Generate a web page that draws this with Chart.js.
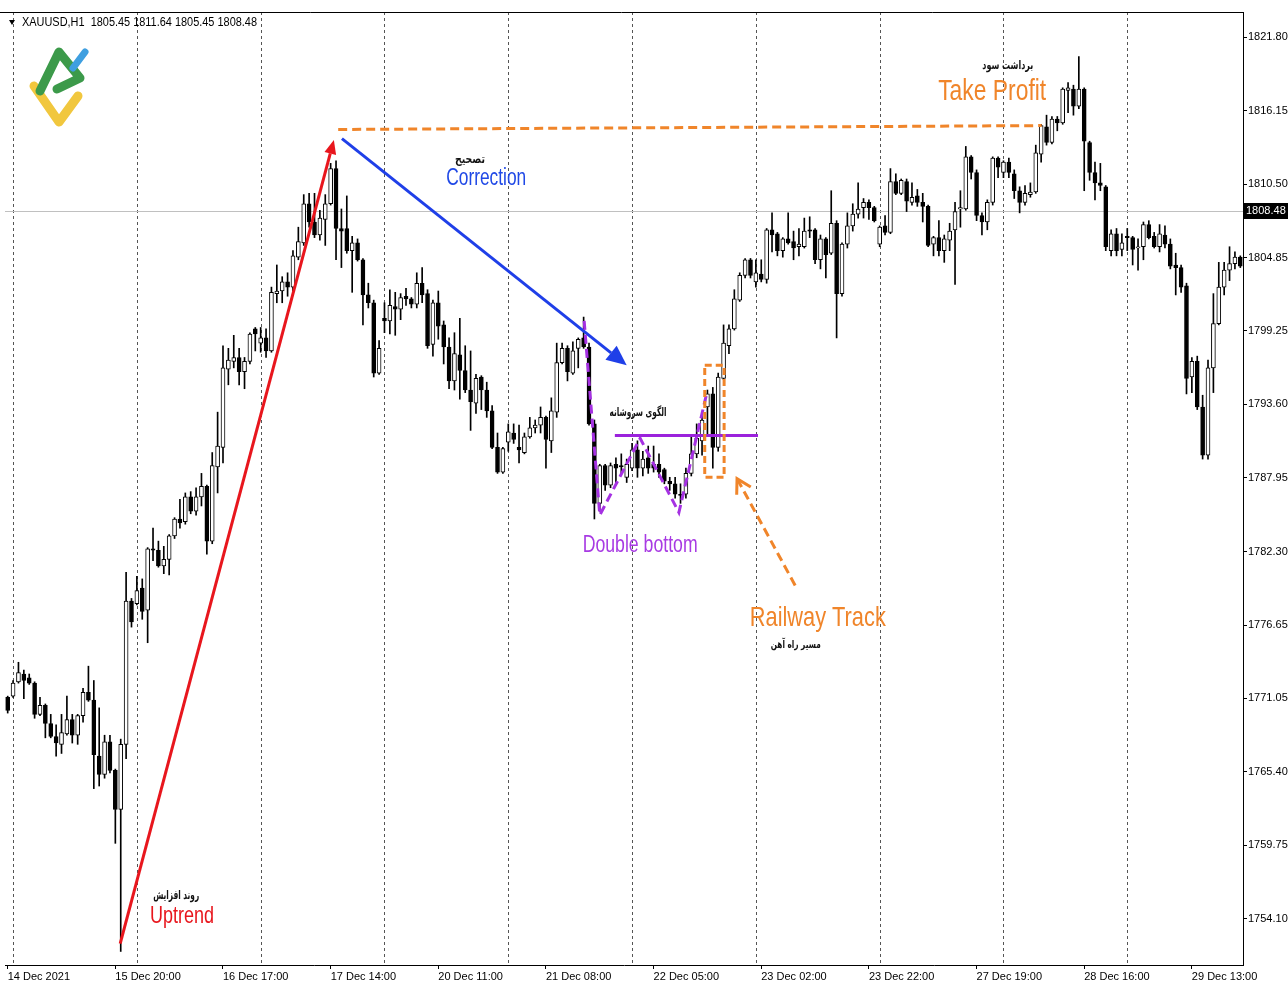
<!DOCTYPE html>
<html>
<head>
<meta charset="utf-8">
<title>XAUUSD,H1</title>
<script src="https://cdn.jsdelivr.net/npm/chart.js@4.4.1/dist/chart.umd.min.js"></script>
<style>
  html, body { margin: 0; padding: 0; background: #ffffff; }
  canvas { display: block; }
</style>
</head>
<body>
<canvas id="chart" width="1288" height="985"></canvas>
<script>
// Sessions: day, first hour, last hour (H1 bars)
const sessions = [
    ['14 Dec', 23, 23], ['15 Dec', 1, 23], ['16 Dec', 1, 23], ['17 Dec', 1, 23],
    ['20 Dec', 1, 23], ['21 Dec', 1, 23], ['22 Dec', 1, 23], ['23 Dec', 1, 23],
    ['27 Dec', 1, 23], ['28 Dec', 1, 23], ['29 Dec', 1, 22]
];

// Candles
const opens = [
    1771.1,1771.2,1772.3,1772.9,1772.6,1772.2,1769.8,1770.5,1769.1,1768.1,
    1767.5,1768.3,1769.4,1768.2,1769.7,1771.5,1770.9,1766.6,1765.2,1767.7,
    1765.5,1762.5,1767.5,1778.5,1778.3,1779.5,1777.8,1782.5,1782.4,1781.2,
    1781.7,1783.5,1784.8,1784.6,1786.5,1785.4,1786.5,1787.3,1783.1,1788.8,
    1790.3,1796.3,1796.9,1797.2,1796.1,1796.9,1799.4,1798.3,1798.7,1797.7,
    1802.1,1802.3,1803.0,1802.6,1804.9,1806.0,1809.0,1807.6,1806.6,1807.8,
    1809.0,1811.7,1807.1,1807.1,1805.4,1806.0,1804.7,1802.0,1801.4,1796.0,
    1800.2,1800.0,1801.1,1800.9,1801.9,1801.7,1801.3,1802.9,1802.1,1798.2,
    1801.4,1799.7,1798.0,1795.4,1797.4,1796.2,1794.7,1793.7,1795.7,1794.7,
    1793.1,1790.3,1788.4,1790.7,1791.4,1790.3,1789.9,1791.1,1791.8,1792.0,
    1792.6,1790.8,1793.0,1796.8,1797.9,1796.0,1797.9,1798.7,1798.0,1792.1,
    1786.0,1788.9,1787.4,1789.0,1788.9,1788.0,1788.7,1790.1,1788.7,1789.5,
    1789.0,1789.0,1788.6,1787.7,1787.5,1786.7,1786.7,1788.3,1789.8,1790.8,
    1793.4,1794.4,1790.3,1795.6,1798.1,1799.4,1801.6,1803.5,1804.7,1803.0,
    1803.6,1803.2,1807.0,1806.7,1805.4,1806.3,1806.1,1805.7,1805.7,1807.0,
    1807.0,1804.7,1806.3,1805.2,1807.5,1802.1,1805.9,1807.3,1808.2,1808.7,
    1809.1,1808.7,1805.9,1807.3,1806.8,1810.7,1809.8,1810.7,1809.1,1809.6,
    1809.1,1808.8,1805.9,1806.4,1805.4,1806.2,1807.0,1808.6,1808.6,1812.6,
    1811.4,1808.1,1807.6,1809.1,1812.5,1811.4,1812.2,1811.3,1810.0,1809.1,
    1809.7,1809.9,1812.8,1814.9,1813.7,1815.5,1815.2,1817.7,1817.8,1816.5,
    1817.8,1813.7,1811.4,1810.6,1810.3,1805.4,1806.7,1805.5,1806.5,1806.4,
    1805.6,1805.7,1807.4,1806.5,1805.7,1806.6,1805.9,1804.3,1804.1,1802.7,
    1795.7,1796.9,1793.4,1789.7,1796.4,1799.8,1802.6,1803.9,1804.4,1804.9
];
const highs = [
    1771.2,1772.4,1773.8,1773.2,1772.9,1772.3,1771.1,1770.6,1769.8,1769.0,
    1769.8,1771.2,1769.8,1769.8,1771.8,1773.5,1772.4,1770.3,1768.2,1768.2,
    1765.6,1767.9,1780.7,1778.7,1780.4,1780.2,1782.6,1784.1,1783.1,1782.7,
    1783.6,1784.9,1786.3,1786.8,1786.9,1787.2,1788.3,1787.4,1789.9,1793.0,
    1798.1,1797.9,1798.9,1797.9,1797.2,1799.1,1799.5,1799.5,1799.4,1802.6,
    1804.3,1803.4,1803.7,1805.4,1807.2,1809.7,1809.8,1809.8,1808.5,1809.7,
    1812.1,1812.3,1808.6,1809.6,1806.5,1806.3,1804.8,1802.9,1801.6,1798.5,
    1801.4,1802.4,1802.2,1802.1,1802.5,1801.8,1803.7,1804.1,1802.4,1801.6,
    1802.3,1800.0,1798.7,1799.1,1800.2,1798.1,1797.7,1795.9,1795.8,1795.3,
    1793.5,1791.4,1790.3,1792.1,1792.1,1792.0,1791.4,1792.6,1792.4,1793.4,
    1792.7,1794.1,1798.3,1798.3,1798.1,1798.4,1798.7,1800.3,1798.3,1792.4,
    1789.0,1789.0,1789.1,1789.5,1789.8,1789.4,1790.6,1790.8,1790.0,1790.4,
    1790.4,1789.8,1788.7,1788.0,1788.0,1787.5,1788.7,1791.2,1792.1,1792.9,
    1794.7,1794.9,1796.0,1799.7,1799.7,1802.4,1803.7,1804.8,1804.8,1804.7,
    1804.7,1807.1,1808.3,1806.8,1806.4,1808.3,1806.9,1807.1,1807.9,1808.0,
    1807.1,1806.6,1806.4,1810.0,1807.7,1806.0,1808.3,1809.0,1810.6,1809.4,
    1809.3,1808.8,1807.3,1808.1,1811.7,1811.3,1810.9,1810.9,1810.6,1810.1,
    1809.8,1808.9,1806.5,1807.7,1806.6,1807.5,1809.1,1810.0,1813.4,1812.7,
    1811.6,1808.3,1809.3,1812.6,1812.6,1812.3,1812.5,1811.6,1810.3,1810.4,
    1810.6,1813.5,1815.1,1815.8,1815.7,1815.7,1817.9,1818.3,1818.1,1820.3,
    1817.9,1813.8,1812.2,1812.1,1810.4,1807.0,1807.1,1806.7,1807.1,1806.5,
    1806.3,1807.6,1807.7,1806.8,1807.4,1807.3,1806.3,1805.2,1804.3,1802.9,
    1797.2,1797.3,1794.3,1797.0,1802.1,1804.5,1804.5,1805.7,1805.3,1805.0
];
const lows = [
    1769.9,1771.1,1772.2,1771.0,1772.1,1769.5,1769.7,1768.0,1768.0,1766.6,
    1766.8,1768.2,1767.6,1767.5,1769.2,1770.8,1764.1,1764.3,1764.9,1765.3,
    1759.9,1751.6,1766.4,1776.5,1778.2,1777.1,1775.3,1781.6,1781.1,1780.6,
    1780.5,1783.3,1784.1,1784.4,1785.2,1785.1,1785.8,1782.1,1782.9,1786.8,
    1789.1,1795.1,1796.4,1795.1,1794.8,1796.7,1797.7,1797.6,1797.2,1797.6,
    1801.4,1801.4,1801.9,1802.3,1804.7,1805.8,1807.2,1806.4,1806.2,1805.8,
    1808.9,1804.7,1804.1,1805.2,1802.2,1804.6,1799.7,1801.0,1795.7,1795.9,
    1799.1,1799.0,1798.9,1800.1,1801.2,1801.0,1801.0,1801.4,1797.9,1797.3,
    1798.6,1796.7,1794.8,1794.7,1794.0,1794.5,1791.6,1792.9,1793.2,1792.6,
    1790.2,1788.3,1788.3,1790.0,1790.6,1789.1,1789.8,1791.0,1791.4,1791.4,
    1788.7,1789.9,1792.6,1796.7,1795.4,1795.9,1796.4,1797.9,1792.0,1784.8,
    1785.4,1787.0,1787.2,1787.5,1788.3,1787.6,1788.5,1788.0,1788.1,1788.3,
    1788.4,1788.0,1787.5,1787.0,1786.4,1786.0,1786.4,1788.1,1789.5,1789.7,
    1791.2,1788.7,1790.0,1795.5,1797.5,1799.3,1801.5,1803.3,1803.3,1802.6,
    1803.0,1802.9,1805.3,1805.0,1804.9,1805.9,1804.7,1805.0,1805.6,1806.4,
    1804.4,1804.0,1803.3,1805.1,1798.7,1801.9,1805.6,1806.9,1807.9,1807.9,
    1807.8,1807.6,1805.7,1806.6,1806.7,1809.7,1809.7,1808.4,1808.9,1808.8,
    1807.6,1805.7,1805.0,1805.0,1804.5,1805.4,1802.8,1807.2,1808.5,1810.9,
    1807.7,1806.6,1807.0,1808.9,1811.0,1811.0,1811.0,1809.4,1808.3,1808.9,
    1809.5,1809.8,1812.2,1813.5,1813.6,1814.6,1815.1,1816.0,1815.8,1816.3,
    1810.0,1810.8,1809.3,1810.0,1805.4,1805.0,1805.0,1805.0,1805.4,1804.3,
    1803.9,1804.7,1806.3,1805.6,1805.3,1805.6,1804.0,1802.0,1802.2,1794.4,
    1794.5,1793.2,1789.4,1789.4,1794.5,1799.7,1802.0,1803.1,1804.0,1804.1
];
const closes = [
    1770.1,1772.2,1773.0,1772.4,1772.2,1769.8,1770.5,1769.1,1768.1,1767.6,
    1768.4,1769.4,1768.2,1769.7,1771.5,1770.9,1766.7,1765.2,1767.7,1765.5,
    1762.5,1767.5,1778.5,1776.9,1779.3,1777.7,1782.5,1782.4,1781.2,1781.7,
    1783.5,1784.8,1784.5,1786.5,1785.4,1786.5,1787.3,1783.1,1788.9,1790.4,
    1796.4,1797.0,1797.2,1796.1,1796.9,1799.0,1799.0,1798.7,1797.7,1802.2,
    1802.3,1803.0,1802.6,1805.0,1806.1,1809.0,1807.6,1806.6,1807.9,1809.0,
    1811.7,1807.1,1806.9,1805.4,1806.0,1804.7,1802.0,1801.4,1796.0,1797.9,
    1800.0,1801.2,1800.9,1801.8,1801.7,1801.3,1802.9,1802.0,1798.1,1801.4,
    1799.6,1798.0,1795.4,1797.5,1796.2,1794.7,1793.8,1795.6,1794.7,1793.1,
    1790.3,1788.4,1790.2,1791.5,1790.9,1790.1,1791.1,1791.8,1792.0,1792.6,
    1790.9,1793.1,1796.8,1797.9,1796.1,1797.7,1798.6,1798.0,1792.1,1786.0,
    1788.9,1787.4,1788.9,1788.7,1788.8,1789.0,1790.1,1788.7,1789.4,1788.7,
    1788.7,1788.4,1787.7,1787.5,1786.7,1786.6,1788.3,1789.8,1791.0,1792.4,
    1794.4,1790.3,1795.7,1798.3,1799.4,1801.7,1803.5,1804.7,1803.5,1803.7,
    1803.2,1807.0,1806.6,1805.4,1806.3,1806.0,1805.6,1805.9,1806.9,1806.9,
    1804.7,1806.3,1805.1,1807.5,1802.1,1805.9,1807.3,1808.2,1808.6,1809.1,
    1808.7,1807.7,1807.2,1806.8,1810.7,1809.8,1810.8,1809.2,1809.5,1809.1,
    1808.8,1805.8,1806.4,1805.4,1806.3,1806.9,1808.4,1808.7,1812.6,1811.4,
    1808.1,1807.6,1809.1,1812.5,1811.8,1812.2,1811.4,1810.0,1809.1,1809.8,
    1809.9,1812.9,1815.0,1813.7,1815.5,1815.2,1817.8,1817.9,1816.5,1817.8,
    1813.8,1811.4,1810.6,1810.4,1805.7,1806.7,1805.4,1806.0,1806.4,1805.5,
    1805.7,1807.4,1806.4,1805.7,1806.7,1805.9,1804.2,1804.1,1802.6,1795.6,
    1796.9,1793.4,1789.7,1796.4,1799.8,1802.6,1803.9,1804.4,1804.9,1804.2
];

// Axis labels
const yTicks = [1821.80, 1816.15, 1810.50, 1804.85, 1799.25, 1793.60, 1787.95,
                1782.30, 1776.65, 1771.05, 1765.40, 1759.75, 1754.10];
const xTickIdx = [0, 20, 40, 60, 80, 100, 120, 140, 160, 180, 200, 220];
const xTickText = ['14 Dec 2021', '15 Dec 20:00', '16 Dec 17:00', '17 Dec 14:00', '20 Dec 11:00',
                   '21 Dec 08:00', '22 Dec 05:00', '23 Dec 02:00', '23 Dec 22:00', '27 Dec 19:00',
                   '28 Dec 16:00', '29 Dec 13:00'];
const dayStarts = [1, 24, 47, 70, 93, 116, 139, 162, 185, 208];
const lastQuote = [1805.45, 1811.64, 1805.45, 1808.48]; // O H L C of current bar

// Drawn analysis, points as [bar index, price]
const uptrendArrow = [[20.9, 1752.2], [60.6, 1813.9]];
const correctionArrow = [[62.1, 1814.0], [115.0, 1796.6]];
const takeProfitLine = [[61.4, 1814.7], [192.1, 1815.0]];
const doubleBottom = [[107.1, 1800.0], [110.0, 1785.1], [117.5, 1791.0], [124.7, 1785.3], [129.9, 1794.5]];
const neckLine = [[112.8, 1791.2], [139.4, 1791.2]];
const railwayBox = [[129.5, 1796.6], [133.1, 1788.0]];
const railwayArrow = [[146.3, 1779.7], [135.5, 1787.9]];

const notes = [
    { text: 'روند افزایش', at: [31.3, 1755.85], w: 46, font: 'bold 12px "DejaVu Sans"', color: '#111' },
    { text: 'Uptrend', at: [32.4, 1754.3], w: 64, font: '24px "Liberation Sans"', color: '#e8161d' },
    { text: 'تصحیح', at: [85.9, 1812.35], w: 30, font: 'bold 12px "DejaVu Sans"', color: '#111' },
    { text: 'Correction', at: [88.9, 1810.96], w: 80, font: '23px "Liberation Sans"', color: '#1f48e6' },
    { text: 'الگوی سروشانه', at: [117.1, 1792.98], w: 57, font: 'bold 12px "DejaVu Sans"', color: '#111' },
    { text: 'Double bottom', at: [117.5, 1782.75], w: 115, font: '23px "Liberation Sans"', color: '#a83be3' },
    { text: 'Railway Track', at: [150.5, 1777.14], w: 136, font: '28px "Liberation Sans"', color: '#f0852a' },
    { text: 'مسیر راه آهن', at: [146.4, 1775.14], w: 50, font: 'bold 11px "DejaVu Sans"', color: '#111' },
    { text: 'برداشت سود', at: [185.8, 1819.57], w: 51, font: 'bold 12px "DejaVu Sans"', color: '#111' },
    { text: 'Take Profit', at: [182.9, 1817.57], w: 108, font: '30px "Liberation Sans"', color: '#f0852a' }
];

// Category labels, one per hourly bar
const times = [];
sessions.forEach(([day, from, to]) => {
    for (let h = from; h <= to; h++) {
        times.push(day + ' ' + String(h).padStart(2, '0') + ':00');
    }
});

// Helpers
function fitText(ctx, text, x, y, width, font, color, align) {
    ctx.save();
    ctx.font = font;
    const w = ctx.measureText(text).width;
    ctx.translate(x, y);
    ctx.scale(width / w, 1);
    ctx.fillStyle = color;
    ctx.textAlign = align || 'center';
    ctx.textBaseline = 'middle';
    ctx.fillText(text, 0, 0);
    ctx.restore();
}

function headPoints(from, to, len, half) {
    const a = Math.atan2(to[1] - from[1], to[0] - from[0]);
    const bx = to[0] - len * Math.cos(a), by = to[1] - len * Math.sin(a);
    return [[bx + half * Math.sin(a), by - half * Math.cos(a)], [bx - half * Math.sin(a), by + half * Math.cos(a)], [bx, by]];
}

function solidArrow(ctx, from, to, color, width, len, half) {
    const [l, r, base] = headPoints(from, to, len, half);
    ctx.save();
    ctx.strokeStyle = color;
    ctx.fillStyle = color;
    ctx.lineWidth = width;
    ctx.beginPath();
    ctx.moveTo(from[0], from[1]);
    ctx.lineTo(base[0], base[1]);
    ctx.stroke();
    ctx.beginPath();
    ctx.moveTo(to[0], to[1]);
    ctx.lineTo(l[0], l[1]);
    ctx.lineTo(r[0], r[1]);
    ctx.closePath();
    ctx.fill();
    ctx.restore();
}

function drawLogo(ctx) {
    ctx.save();
    ctx.lineCap = 'round';
    ctx.lineJoin = 'round';
    ctx.lineWidth = 9;
    ctx.strokeStyle = '#f1c73e';
    ctx.beginPath();
    ctx.moveTo(34, 86); ctx.lineTo(59, 122); ctx.lineTo(78, 96);
    ctx.stroke();
    ctx.strokeStyle = '#3c9a4a';
    ctx.beginPath();
    ctx.moveTo(40, 91); ctx.lineTo(59, 52); ctx.lineTo(80, 78); ctx.lineTo(57, 89);
    ctx.stroke();
    ctx.strokeStyle = '#3f9fe0';
    ctx.lineWidth = 7;
    ctx.beginPath();
    ctx.moveTo(73, 68); ctx.lineTo(85, 52);
    ctx.stroke();
    ctx.restore();
}

// Grid, annotations and header
const overlay = {
    id: 'overlay',
    beforeDatasetsDraw(chart) {
        const { ctx, chartArea: a, scales: { x, y } } = chart;
        ctx.save();
        ctx.strokeStyle = '#555';
        ctx.lineWidth = 1;
        ctx.setLineDash([3, 3]);
        dayStarts.forEach(i => {
            const px = Math.round(x.getPixelForValue(i)) + 0.5;
            ctx.beginPath();
            ctx.moveTo(px, a.top);
            ctx.lineTo(px, a.bottom);
            ctx.stroke();
        });
        ctx.setLineDash([]);
        ctx.strokeStyle = '#c0c0c0';
        const py = Math.round(y.getPixelForValue(lastQuote[3])) + 0.5;
        ctx.beginPath();
        ctx.moveTo(a.left, py);
        ctx.lineTo(a.right, py);
        ctx.stroke();
        ctx.restore();
    },
    afterDatasetsDraw(chart) {
        const { ctx, scales: { x, y } } = chart;
        const P = pt => [x.getPixelForValue(pt[0]), y.getPixelForValue(pt[1])];

        // Uptrend and correction arrows
        solidArrow(ctx, P(uptrendArrow[0]), P(uptrendArrow[1]), '#e8161d', 3, 14, 6);
        solidArrow(ctx, P(correctionArrow[0]), P(correctionArrow[1]), '#1f3fe8', 3, 20, 9);

        ctx.save();
        ctx.lineCap = 'butt';
        // Take profit level
        ctx.strokeStyle = '#f0852a';
        ctx.lineWidth = 3;
        ctx.setLineDash([9, 5]);
        ctx.beginPath();
        takeProfitLine.map(P).forEach((p, i) => i ? ctx.lineTo(p[0], p[1]) : ctx.moveTo(p[0], p[1]));
        ctx.stroke();

        // Double bottom zigzag
        ctx.strokeStyle = '#a531e2';
        ctx.beginPath();
        doubleBottom.map(P).forEach((p, i) => i ? ctx.lineTo(p[0], p[1]) : ctx.moveTo(p[0], p[1]));
        ctx.stroke();

        // Neck line
        ctx.setLineDash([]);
        ctx.strokeStyle = '#9b22dc';
        ctx.beginPath();
        neckLine.map(P).forEach((p, i) => i ? ctx.lineTo(p[0], p[1]) : ctx.moveTo(p[0], p[1]));
        ctx.stroke();

        // Railway track box
        const b0 = P(railwayBox[0]), b1 = P(railwayBox[1]);
        ctx.strokeStyle = '#f0852a';
        ctx.setLineDash([7, 4]);
        ctx.strokeRect(b0[0], b0[1], b1[0] - b0[0], b1[1] - b0[1]);

        // Dashed pointer to the box
        const r0 = P(railwayArrow[0]), r1 = P(railwayArrow[1]);
        ctx.setLineDash([9, 5]);
        ctx.beginPath();
        ctx.moveTo(r0[0], r0[1]);
        ctx.lineTo(r1[0], r1[1]);
        ctx.stroke();
        ctx.setLineDash([]);
        const [hl, hr] = headPoints(r0, r1, 14, 8);
        ctx.beginPath();
        ctx.moveTo(hl[0], hl[1]);
        ctx.lineTo(r1[0], r1[1]);
        ctx.lineTo(hr[0], hr[1]);
        ctx.stroke();
        ctx.restore();

        // Notes
        notes.forEach(n => {
            const p = P(n.at);
            fitText(ctx, n.text, p[0], p[1], n.w, n.font, n.color);
        });
    },
    afterDraw(chart) {
        const { ctx, chartArea: a, scales: { y } } = chart;
        ctx.save();
        // Top frame
        ctx.strokeStyle = '#000';
        ctx.lineWidth = 1;
        ctx.beginPath();
        ctx.moveTo(0, a.top + 0.5);
        ctx.lineTo(a.right, a.top + 0.5);
        ctx.stroke();

        // Current price tag
        const py = Math.round(y.getPixelForValue(lastQuote[3]));
        ctx.fillStyle = '#000';
        ctx.fillRect(a.right, py - 8, chart.width - a.right, 16);
        ctx.fillStyle = '#fff';
        ctx.font = '11px "Liberation Sans"';
        ctx.textBaseline = 'middle';
        ctx.textAlign = 'left';
        ctx.fillText(lastQuote[3].toFixed(2), a.right + 3, py);

        // Header
        ctx.fillStyle = '#000';
        ctx.beginPath();
        ctx.moveTo(9, 20); ctx.lineTo(15, 20); ctx.lineTo(12, 25);
        ctx.closePath();
        ctx.fill();
        ctx.restore();
        const header = 'XAUUSD,H1  ' + lastQuote.map(v => v.toFixed(2)).join(' ');
        fitText(ctx, header, 22, 23, 235, '12px "Liberation Sans"', '#000', 'left');

        drawLogo(ctx);
    }
};

new Chart(document.getElementById('chart'), {
    type: 'bar',
    data: {
        labels: times,
        datasets: [
            {
                label: 'Body',
                data: opens.map((o, i) => [o, closes[i]]),
                backgroundColor: c => closes[c.dataIndex] >= opens[c.dataIndex] ? '#ffffff' : '#000000',
                borderColor: '#000000',
                borderWidth: 1,
                borderSkipped: false,
                barThickness: 4,
                grouped: false,
                order: 0
            },
            {
                label: 'Wick',
                data: lows.map((l, i) => [l, highs[i]]),
                backgroundColor: '#000000',
                borderWidth: 0,
                barThickness: 1,
                grouped: false,
                order: 1
            }
        ]
    },
    options: {
        responsive: false,
        devicePixelRatio: 1,
        animation: false,
        layout: { padding: { left: 5, top: 12, right: 0, bottom: 0 } },
        plugins: {
            legend: { display: false },
            tooltip: { enabled: false }
        },
        scales: {
            x: {
                type: 'category',
                offset: true,
                border: { display: true, color: '#000' },
                grid: {
                    offset: false,
                    drawOnChartArea: false,
                    drawTicks: true,
                    tickLength: 4,
                    color: c => xTickIdx.includes(c.index) ? '#000' : 'rgba(0,0,0,0)'
                },
                ticks: {
                    autoSkip: false,
                    maxRotation: 0,
                    minRotation: 0,
                    align: 'start',
                    padding: 1,
                    color: '#000',
                    font: { family: 'Liberation Sans', size: 11 },
                    callback: (v, i) => {
                        const k = xTickIdx.indexOf(i);
                        return k >= 0 ? xTickText[k] : '';
                    }
                },
                afterFit: s => { s.height = 20; }
            },
            y: {
                position: 'right',
                min: 1750.56,
                max: 1823.72,
                border: { display: true, color: '#000' },
                grid: { drawOnChartArea: false, drawTicks: true, tickLength: 4, color: '#000' },
                afterBuildTicks: s => { s.ticks = yTicks.map(v => ({ value: v })); },
                ticks: {
                    padding: 1,
                    color: '#000',
                    font: { family: 'Liberation Sans', size: 11 },
                    callback: v => Number(v).toFixed(2)
                },
                afterFit: s => { s.width = 45; }
            }
        }
    },
    plugins: [overlay]
});
</script>
</body>
</html>
